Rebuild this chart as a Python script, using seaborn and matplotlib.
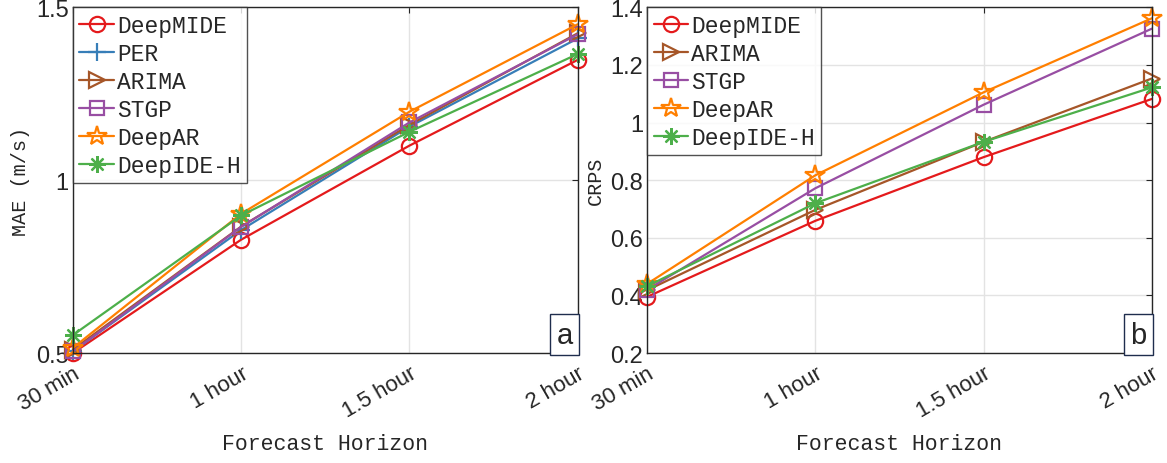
import numpy as np
import pandas as pd
import matplotlib
matplotlib.use("Agg")
import matplotlib.pyplot as plt
import seaborn as sns

# ---------------- data ----------------
horizons = ["30 min", "1 hour", "1.5 hour", "2 hour"]

mae_deepmide = [0.500, 0.828, 1.100, 1.348]
mae_per      = [0.505, 0.856, 1.155, 1.410]
mae_arima    = [0.510, 0.866, 1.160, 1.425]
mae_stgp     = [0.505, 0.865, 1.167, 1.422]
mae_deepar   = [0.515, 0.903, 1.198, 1.451]
mae_deepideh = [0.552, 0.898, 1.140, 1.365]

crps_deepmide = [0.395, 0.659, 0.880, 1.082]
crps_arima    = [0.418, 0.697, 0.933, 1.153]
crps_stgp     = [0.420, 0.772, 1.062, 1.326]
crps_deepar   = [0.440, 0.817, 1.105, 1.362]
crps_deepideh = [0.432, 0.720, 0.933, 1.122]

mae_yticks = [0.5, 1.0, 1.5]
mae_yticklabels = ["0.5", "1", "1.5"]
crps_yticks = [0.2, 0.4, 0.6, 0.8, 1.0, 1.2, 1.4]
crps_yticklabels = ["0.2", "0.4", "0.6", "0.8", "1", "1.2", "1.4"]

# ---------------- styles ----------------
RED, BLUE, GREEN = "#e41a1c", "#377eb8", "#4daf4a"
PURPLE, ORANGE, BROWN = "#984ea3", "#ff7f00", "#a65628"
ASTER = (8, 2, 0)

mae_series = [
    ("DeepMIDE", mae_deepmide, RED, "o"),
    ("PER", mae_per, BLUE, "+"),
    ("ARIMA", mae_arima, BROWN, ">"),
    ("STGP", mae_stgp, PURPLE, "s"),
    ("DeepAR", mae_deepar, ORANGE, "*"),
    ("DeepIDE-H", mae_deepideh, GREEN, ASTER),
]
crps_series = [
    ("DeepMIDE", crps_deepmide, RED, "o"),
    ("ARIMA", crps_arima, BROWN, ">"),
    ("STGP", crps_stgp, PURPLE, "s"),
    ("DeepAR", crps_deepar, ORANGE, "*"),
    ("DeepIDE-H", crps_deepideh, GREEN, ASTER),
]

sns.set_style("white")
plt.rcParams["font.family"] = ["Liberation Sans", "DejaVu Sans"]

MONO = "Liberation Mono"
SANS = "Liberation Sans"

fig = plt.figure(figsize=(11.67, 4.64), dpi=100)
axL = fig.add_axes([0.0625, 0.237, 0.4325, 0.745])
axR = fig.add_axes([0.5545, 0.237, 0.4325, 0.745])

xpos = list(range(len(horizons)))
msize = {"o": 11, "+": 13, ">": 11, "s": 10, "*": 15, ASTER: 12}


def draw(ax, series, yticks, yticklabels, ylim, ylabel, tag):
    for name, vals, col, mk in series:
        df = pd.DataFrame({"x": xpos, "y": vals})
        sns.lineplot(data=df, x="x", y="y", ax=ax, color=col, marker=mk,
                     markersize=msize[mk], mfc="none", mec=col, mew=1.6,
                     lw=1.6, label=name, sort=False)
    ax.set_xlim(xpos[0], xpos[-1])
    ax.set_ylim(*ylim)
    ax.set_xticks(xpos)
    ax.set_xticklabels(horizons, rotation=30, ha="right",
                       rotation_mode="anchor", fontsize=16, family=SANS)
    ax.set_yticks(yticks)
    ax.set_yticklabels(yticklabels, fontsize=17, family=SANS)
    ax.grid(True, color="#e3e3e3", lw=1.0)
    ax.set_axisbelow(True)
    ax.tick_params(direction="in", top=True, right=True, length=4,
                   width=0.8, colors="#262626", pad=3)
    ax.tick_params(axis="x", pad=7)
    for s in ax.spines.values():
        s.set_color("#262626")
        s.set_linewidth(1.0)
    ax.set_xlabel("Forecast Horizon", family=MONO, fontsize=15.5,
                  labelpad=8)
    ax.set_ylabel(ylabel, family=MONO, fontsize=14.5, labelpad=4)
    leg = ax.legend(loc="upper left", prop={"family": MONO, "size": 16.5},
                    frameon=True, fancybox=False, borderaxespad=0.0,
                    handlelength=1.5, handletextpad=0.15, labelspacing=0.22,
                    borderpad=0.28)
    leg.get_frame().set_edgecolor("#262626")
    leg.get_frame().set_linewidth(1.0)
    ax.text(0.99, 0.012, tag, transform=ax.transAxes, ha="right",
            va="bottom", fontsize=21, family=SANS,
            bbox=dict(boxstyle="square,pad=0.22", fc="white",
                      ec="#1f2d4d", lw=1.0))


draw(axL, mae_series, mae_yticks, mae_yticklabels, (0.5, 1.5),
     "MAE (m/s)", "a")
draw(axR, crps_series, crps_yticks, crps_yticklabels, (0.2, 1.4),
     "CRPS", "b")

for ax in (axL, axR):
    for line in ax.get_lines():
        line.set_clip_on(False)

fig.savefig("out.png", dpi=100)
